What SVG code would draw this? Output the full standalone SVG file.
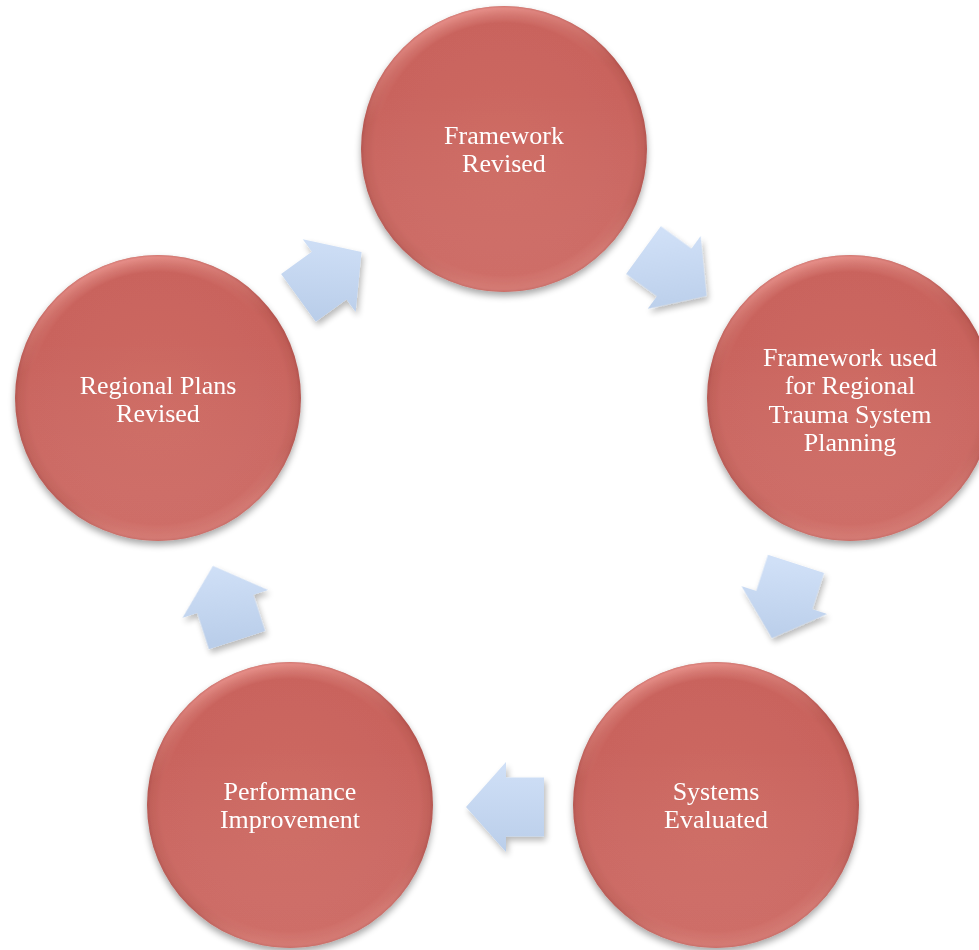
<svg xmlns="http://www.w3.org/2000/svg" xmlns:xlink="http://www.w3.org/1999/xlink" width="979" height="950" viewBox="0 0 979 950">
<defs>
<style>
.lbl{font-family:"Liberation Serif","Times New Roman",serif;font-size:26px;fill:#ffffff;text-anchor:middle}
.base{fill:url(#cBase)}
.hi{fill:url(#cHi);mask:url(#topMask)}
.lo{fill:url(#cLo)}
</style>
<radialGradient id="cBase" cx="0.5" cy="0.5" r="0.5">
<stop offset="0" stop-color="#CD6862"/>
<stop offset="0.9" stop-color="#C9645D"/>
<stop offset="0.975" stop-color="#BF5C56"/>
<stop offset="1" stop-color="#B2524C"/>
</radialGradient>
<radialGradient id="cHi" cx="0.5" cy="0.5" r="0.5">
<stop offset="0.88" stop-color="#FFB8B2" stop-opacity="0"/>
<stop offset="0.985" stop-color="#FFAEA8" stop-opacity="0.85"/>
<stop offset="1" stop-color="#F59E98" stop-opacity="0.7"/>
</radialGradient>
<linearGradient id="mG" x1="0" y1="0" x2="0.25" y2="1">
<stop offset="0" stop-color="#ffffff"/>
<stop offset="0.4" stop-color="#000000"/>
<stop offset="0.85" stop-color="#000000"/>
<stop offset="1" stop-color="#555555"/>
</linearGradient>
<mask id="topMask" maskContentUnits="objectBoundingBox">
<rect x="0" y="0" width="1" height="1" fill="url(#mG)"/>
</mask>
<linearGradient id="cLo" x1="0" y1="0" x2="0" y2="1">
<stop offset="0.3" stop-color="#ffffff" stop-opacity="0"/>
<stop offset="1" stop-color="#ffd0c8" stop-opacity="0.1"/>
</linearGradient>
<linearGradient id="aG" x1="0" y1="0" x2="0" y2="1">
<stop offset="0" stop-color="#D0E0F7"/>
<stop offset="1" stop-color="#BACEEA"/>
</linearGradient>
<linearGradient id="aG1" xlink:href="#aG" gradientTransform="rotate(36 0.5 0.5)"/>
<linearGradient id="aG2" xlink:href="#aG" gradientTransform="rotate(-36 0.5 0.5)"/>
<linearGradient id="aG3" xlink:href="#aG" gradientTransform="rotate(-108 0.5 0.5)"/>
<linearGradient id="aG4" xlink:href="#aG" gradientTransform="rotate(-180 0.5 0.5)"/>
<linearGradient id="aG5" xlink:href="#aG" gradientTransform="rotate(-252 0.5 0.5)"/>
<filter id="cShadow" x="-20%" y="-20%" width="140%" height="140%">
<feGaussianBlur in="SourceAlpha" stdDeviation="3.5"/>
<feOffset dx="0" dy="4" result="b"/>
<feComponentTransfer><feFuncA type="linear" slope="0.35"/></feComponentTransfer>
<feMerge><feMergeNode/><feMergeNode in="SourceGraphic"/></feMerge>
</filter>
<filter id="aShadow" x="-30%" y="-30%" width="160%" height="160%">
<feGaussianBlur in="SourceAlpha" stdDeviation="3"/>
<feOffset dx="2" dy="4" result="b"/>
<feComponentTransfer><feFuncA type="linear" slope="0.28"/></feComponentTransfer>
<feMerge><feMergeNode/><feMergeNode in="SourceGraphic"/></feMerge>
</filter>
<path id="arr" d="M -39,-29.5 L -1,-29.5 L -1,-45 L 39,0 L -1,45 L -1,29.5 L -39,29.5 Z"/>
</defs>
<rect width="979" height="950" fill="#ffffff"/>

<g id="connectors" filter="url(#aShadow)">
<use href="#arr" fill="url(#aG1)" transform="translate(330,275) rotate(-36)"/>
<use href="#arr" fill="url(#aG2)" transform="translate(675,273) rotate(36)"/>
<use href="#arr" fill="url(#aG3)" transform="translate(784,601) rotate(108)"/>
<use href="#arr" fill="url(#aG4)" transform="translate(505,807) rotate(180)"/>
<use href="#arr" fill="url(#aG5)" transform="translate(225,603) rotate(252)"/>
</g>

<g id="node-framework-revised">
<g filter="url(#cShadow)"><circle class="base" cx="504" cy="149" r="143"/></g>
<circle class="lo" cx="504" cy="149" r="143"/>
<circle class="hi" cx="504" cy="149" r="143"/>
<text class="lbl" x="504" y="144">Framework</text>
<text class="lbl" x="504" y="172">Revised</text>
</g>

<g id="node-framework-used">
<g filter="url(#cShadow)"><circle class="base" cx="850" cy="398" r="143"/></g>
<circle class="lo" cx="850" cy="398" r="143"/>
<circle class="hi" cx="850" cy="398" r="143"/>
<text class="lbl" x="850" y="366">Framework used</text>
<text class="lbl" x="850" y="394">for Regional</text>
<text class="lbl" x="850" y="423">Trauma System</text>
<text class="lbl" x="850" y="451">Planning</text>
</g>

<g id="node-systems-evaluated">
<g filter="url(#cShadow)"><circle class="base" cx="716" cy="805" r="143"/></g>
<circle class="lo" cx="716" cy="805" r="143"/>
<circle class="hi" cx="716" cy="805" r="143"/>
<text class="lbl" x="716" y="800">Systems</text>
<text class="lbl" x="716" y="828">Evaluated</text>
</g>

<g id="node-performance-improvement">
<g filter="url(#cShadow)"><circle class="base" cx="290" cy="805" r="143"/></g>
<circle class="lo" cx="290" cy="805" r="143"/>
<circle class="hi" cx="290" cy="805" r="143"/>
<text class="lbl" x="290" y="800">Performance</text>
<text class="lbl" x="290" y="828">Improvement</text>
</g>

<g id="node-regional-plans-revised">
<g filter="url(#cShadow)"><circle class="base" cx="158" cy="398" r="143"/></g>
<circle class="lo" cx="158" cy="398" r="143"/>
<circle class="hi" cx="158" cy="398" r="143"/>
<text class="lbl" x="158" y="394">Regional Plans</text>
<text class="lbl" x="158" y="422">Revised</text>
</g>
</svg>
